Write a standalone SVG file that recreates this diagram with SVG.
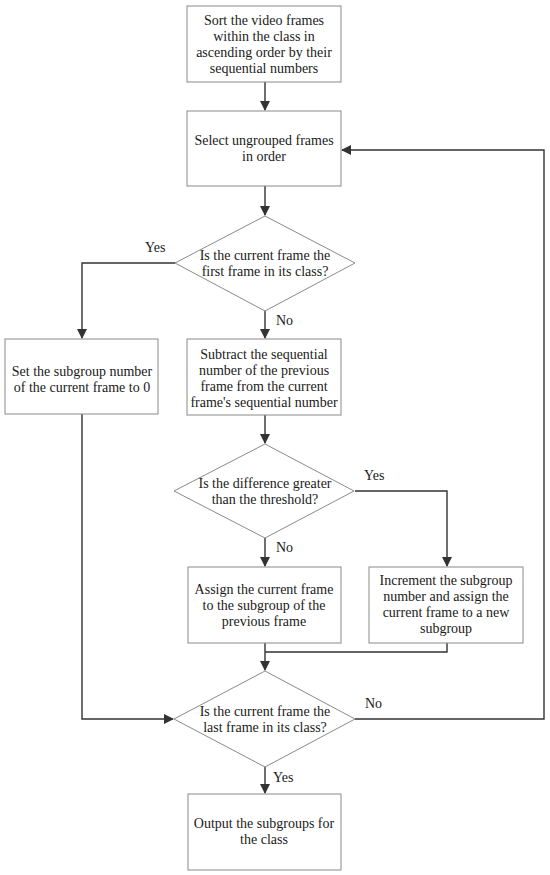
<svg xmlns="http://www.w3.org/2000/svg" width="550" height="875" viewBox="0 0 550 875">
<defs>
<style>
.n{fill:#fff;stroke:#8a8a8a;stroke-width:1}
text{font-family:'Liberation Serif','Times New Roman','DejaVu Serif',serif;font-size:14px;fill:#1a1a1a}
.t{text-anchor:middle}
.c{fill:none;stroke:#333;stroke-width:1.4}
</style>
<marker id="a" markerWidth="10" markerHeight="10" refX="9" refY="5" orient="auto" markerUnits="userSpaceOnUse">
<path d="M0,0 L10,5 L0,10 z" fill="#333"/>
</marker>
</defs>
<rect width="550" height="875" fill="#fff"/>
<g id="connectors">
<path class="c" d="M265,82 V110" marker-end="url(#a)"/>
<path class="c" d="M265,186 V215" marker-end="url(#a)"/>
<path class="c" d="M175,263 H82 V338" marker-end="url(#a)"/>
<path class="c" d="M265,311 V338" marker-end="url(#a)"/>
<path class="c" d="M265,415 V443" marker-end="url(#a)"/>
<path class="c" d="M355,491 H447 V566" marker-end="url(#a)"/>
<path class="c" d="M265,538 V566" marker-end="url(#a)"/>
<path class="c" d="M265,643 V670" marker-end="url(#a)"/>
<path class="c" d="M447,643 V652 H265"/>
<path class="c" d="M82,414 V719 H173" marker-end="url(#a)"/>
<path class="c" d="M355,719 H544 V150 H342" marker-end="url(#a)"/>
<path class="c" d="M265,767 V793" marker-end="url(#a)"/>
<text x="145" y="252">Yes</text>
<text x="276" y="325">No</text>
<text x="364" y="480">Yes</text>
<text x="276" y="552">No</text>
<text x="365" y="708">No</text>
<text x="273" y="782">Yes</text>
</g>
<g id="sort">
<rect class="n" x="187" y="6" width="154" height="76"/>
<text class="t" x="264" y="25">Sort the video frames</text>
<text class="t" x="264" y="41">within the class in</text>
<text class="t" x="264" y="57">ascending order by their</text>
<text class="t" x="264" y="73">sequential numbers</text>
</g>
<g id="select">
<rect class="n" x="187" y="111" width="154" height="75"/>
<text class="t" x="264" y="145">Select ungrouped frames</text>
<text class="t" x="264" y="161">in order</text>
</g>
<g id="first">
<polygon class="n" points="265,216 355,263 265,311 175,263"/>
<text class="t" x="265" y="260">Is the current frame the</text>
<text class="t" x="265" y="276">first frame in its class?</text>
</g>
<g id="setzero">
<rect class="n" x="5" y="339" width="153" height="75"/>
<text class="t" x="82" y="376">Set the subgroup number</text>
<text class="t" x="82" y="392">of the current frame to 0</text>
</g>
<g id="subtract">
<rect class="n" x="187" y="339" width="154" height="76"/>
<text class="t" x="264" y="359">Subtract the sequential</text>
<text class="t" x="264" y="375">number of the previous</text>
<text class="t" x="264" y="391">frame from the current</text>
<text class="t" x="264" y="407">frame's sequential number</text>
</g>
<g id="threshold">
<polygon class="n" points="265,444 354,491 265,538 174,491"/>
<text class="t" x="265" y="488">Is the difference greater</text>
<text class="t" x="265" y="504">than the threshold?</text>
</g>
<g id="assign">
<rect class="n" x="188" y="567" width="153" height="76"/>
<text class="t" x="264" y="594">Assign the current frame</text>
<text class="t" x="264" y="610">to the subgroup of the</text>
<text class="t" x="264" y="626">previous frame</text>
</g>
<g id="increment">
<rect class="n" x="369" y="567" width="154" height="76"/>
<text class="t" x="446" y="585">Increment the subgroup</text>
<text class="t" x="446" y="601">number and assign the</text>
<text class="t" x="446" y="617">current frame to a new</text>
<text class="t" x="446" y="633">subgroup</text>
</g>
<g id="last">
<polygon class="n" points="265,671 355,719 265,767 174,719"/>
<text class="t" x="265" y="716">Is the current frame the</text>
<text class="t" x="265" y="732">last frame in its class?</text>
</g>
<g id="output">
<rect class="n" x="188" y="794" width="153" height="76"/>
<text class="t" x="264" y="828">Output the subgroups for</text>
<text class="t" x="264" y="844">the class</text>
</g>
</svg>
